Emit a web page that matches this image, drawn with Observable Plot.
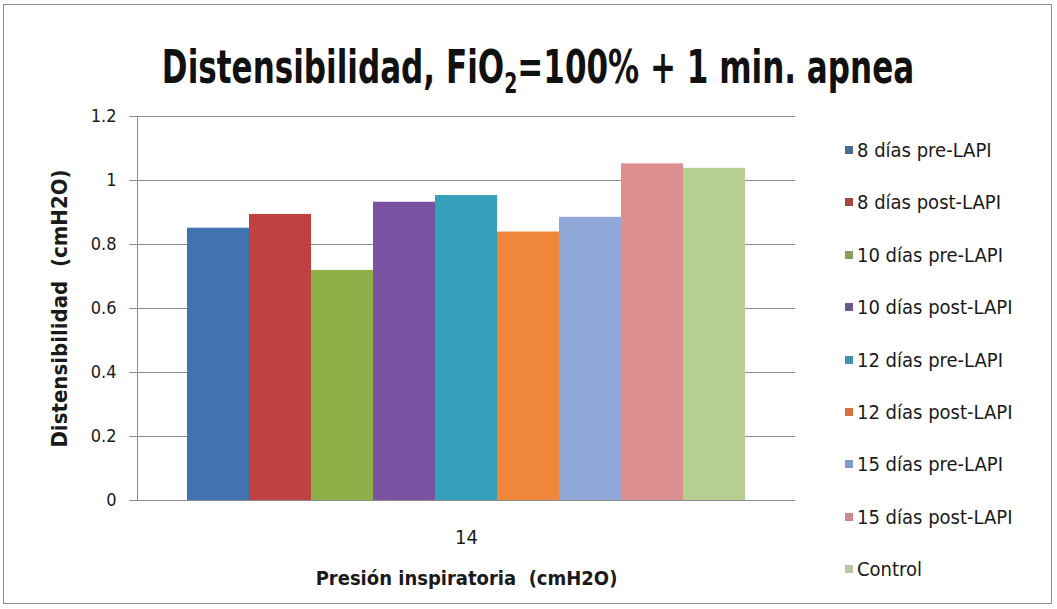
<!DOCTYPE html>
<html><head><meta charset="utf-8">
<script src="https://cdn.jsdelivr.net/npm/d3@7"></script>
<script src="https://cdn.jsdelivr.net/npm/@observablehq/plot@0.6"></script>
<style>
body{margin:0;background:#fff;}
#c{position:relative;width:1057px;height:609px;overflow:hidden;background:#fff;font-family:"Liberation Sans Narrow","DejaVu Sans Condensed","Open Sans",sans-serif;color:#1a1a1a;}
#border{position:absolute;left:3px;top:4px;width:1049px;height:600px;border:1px solid #8c8c8c;box-sizing:border-box;}
#title{position:absolute;left:0;width:1076px;top:51px;text-align:center;font-weight:bold;font-size:34.5px;line-height:40px;color:#111;white-space:nowrap;transform:scaleY(1.36);transform-origin:50% 32px;}
#title sub{font-size:21px;vertical-align:-7px;line-height:0;}
#plot{position:absolute;left:0;top:0;}
#legend{position:absolute;left:845px;top:0;}
.item{position:absolute;left:0;white-space:nowrap;font-size:20px;line-height:24px;}
.sw{position:absolute;left:0;top:8px;width:8px;height:8px;}
.lab{position:absolute;left:12px;top:0;}
#plot [aria-label="y-axis label"] text{font-weight:bold;font-size:22px;}
#plot [aria-label="x-axis label"] text{font-weight:bold;}
#plot [aria-label="y-axis tick label"] text{font-size:18px;}
</style></head>
<body>
<div id="c">
 <div id="border"></div>
 <div id="title">Distensibilidad, FiO<sub>2</sub>=100% + 1 min. apnea</div>
 <div id="plot"></div>
 <div id="legend"></div>
</div>
<script>
const series = ["8 días pre-LAPI","8 días post-LAPI","10 días pre-LAPI","10 días post-LAPI","12 días pre-LAPI","12 días post-LAPI","15 días pre-LAPI","15 días post-LAPI","Control"];
const values = [0.851, 0.894, 0.719, 0.932, 0.953, 0.839, 0.885, 1.052, 1.038];
const colors = ["#4173b3","#c0413f","#8db048","#7b52a2","#34a0ba","#f0873a","#8fa8d8","#dc8f8e","#b6cf90"];
const legendColors = ["#4a6c96","#a34644","#8a9d5c","#6a5a8c","#3f93aa","#d9713f","#7f9cc9","#c88a8f","#b9c8a2"];
const category = ["14"];
const yTicks = [0, 0.2, 0.4, 0.6, 0.8, 1, 1.2];
const xTitle = "Presión inspiratoria  (cmH2O)";
const yTitle = "Distensibilidad  (cmH2O)";

const data = series.map((s, i) => ({series: s, value: values[i], group: category[0]}));
const mid = series[Math.floor(series.length / 2)];

const chart = Plot.plot({
  width: 1057, height: 609,
  marginTop: 116, marginBottom: 109, marginLeft: 137, marginRight: 262,
  style: {fontFamily: '"Liberation Sans Narrow","DejaVu Sans Condensed",sans-serif', fontSize: "20px", color: "#1a1a1a", background: "transparent"},
  x: {domain: series, paddingInner: 0, paddingOuter: 0.76, align: 0.5},
  y: {domain: [0, 1.2]},
  color: {domain: series, range: colors},
  marks: [
    Plot.gridY(yTicks, {stroke: "#8c8c8c", strokeOpacity: 1}),
    Plot.barY(data, {x: "series", y: "value", fill: "series"}),
    Plot.axisY(yTicks, {tickSize: 8, tickPadding: 13, stroke: "#8c8c8c",
      tickFormat: d => String(+d.toFixed(1)), label: yTitle, labelAnchor: "center", labelArrow: "none", labelOffset: 86}),
    Plot.frame({anchor: "left", stroke: "#8c8c8c"}),
    Plot.axisX({tickSize: 0, tickPadding: 29, tickFormat: d => d === mid ? category[0] : "",
      label: xTitle, labelAnchor: "center", labelArrow: "none", labelOffset: 84})
  ]
});
document.getElementById("plot").appendChild(chart);

const leg = document.getElementById("legend");
series.forEach((s, i) => {
  const it = document.createElement("div");
  it.className = "item";
  it.style.top = (138 + i * 52.4) + "px";
  it.innerHTML = `<span class="sw" style="background:${legendColors[i]}"></span><span class="lab">${s}</span>`;
  leg.appendChild(it);
});
</script>
</body></html>
